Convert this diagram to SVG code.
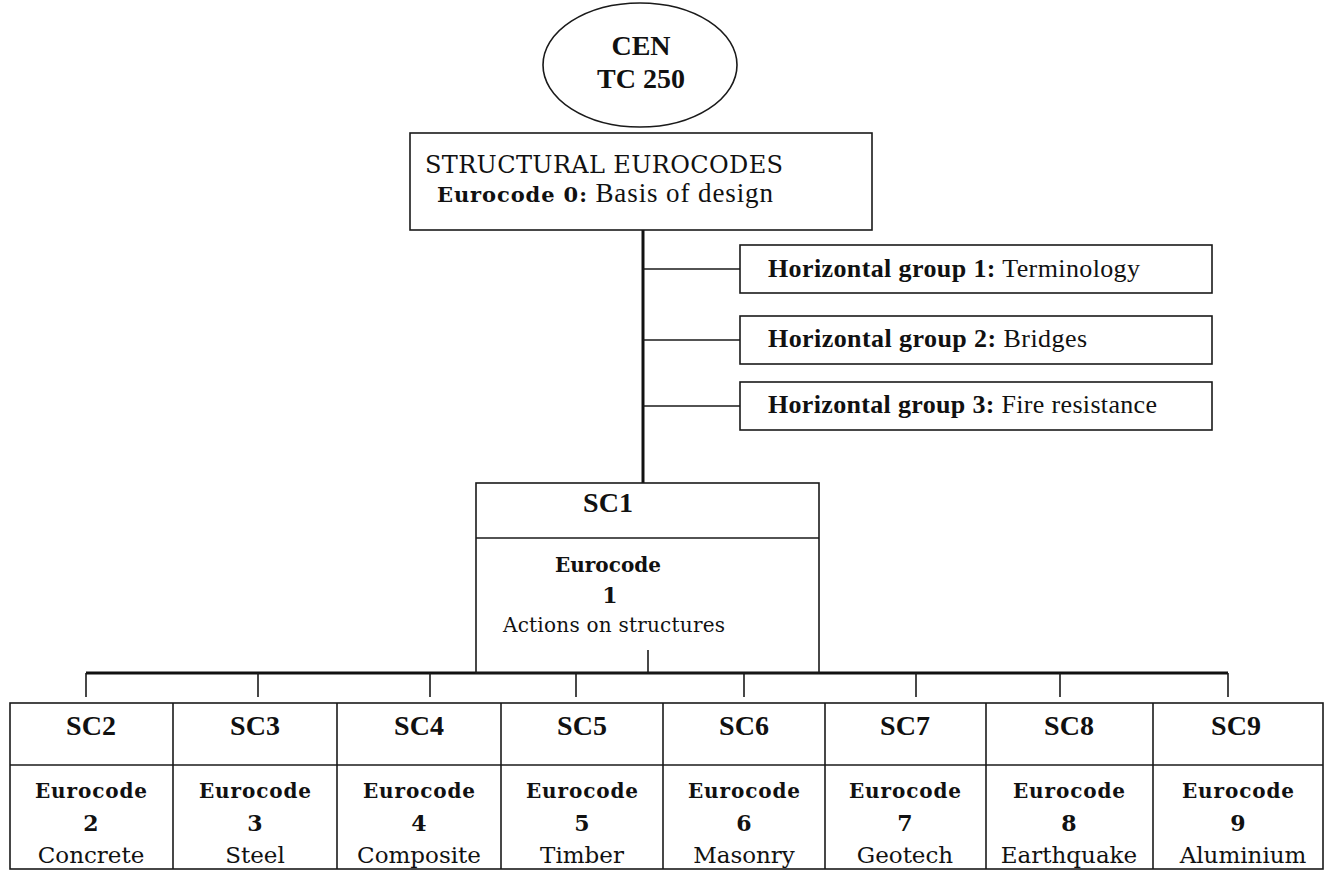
<svg xmlns="http://www.w3.org/2000/svg" width="1330" height="870" viewBox="0 0 1330 870">
<style>
.bg{fill:#fff}
.box{fill:none;stroke:#1a1a1a;stroke-width:1.6}
.ln{stroke:#1a1a1a;stroke-width:1.6;fill:none}
.thick{stroke:#111;stroke-width:3;fill:none}
.tnr{font-family:"Liberation Serif","Times New Roman",serif;fill:#111}
.dj{font-family:"DejaVu Serif","Liberation Serif",serif;fill:#111}
.b{font-weight:bold}
.sc{font-family:"Liberation Serif","Times New Roman",serif;font-size:28px;font-weight:bold;fill:#111;text-anchor:middle}
.ec{font-family:"DejaVu Serif","Liberation Serif",serif;font-size:20px;font-weight:bold;fill:#111;text-anchor:middle}
.num{font-family:"DejaVu Serif","Liberation Serif",serif;font-size:22px;font-weight:bold;fill:#111;text-anchor:middle}
.nm{font-family:"DejaVu Serif","Liberation Serif",serif;font-size:23px;fill:#111;text-anchor:middle}
.hg{font-family:"Liberation Serif","Times New Roman",serif;font-size:26px;fill:#111}
</style>
<rect class="bg" x="0" y="0" width="1330" height="870"/>

<g id="connectors">
  <line class="thick" x1="643" y1="230" x2="643" y2="483"/>
  <line class="ln" x1="643" y1="269" x2="740" y2="269"/>
  <line class="ln" x1="643" y1="340" x2="740" y2="340"/>
  <line class="ln" x1="643" y1="406" x2="740" y2="406"/>
  <line class="ln" x1="648" y1="650" x2="648" y2="673"/>
  <line class="thick" x1="86" y1="673" x2="1228" y2="673"/>
  <line class="ln" x1="86" y1="673" x2="86" y2="697"/>
  <line class="ln" x1="258" y1="673" x2="258" y2="697"/>
  <line class="ln" x1="430" y1="673" x2="430" y2="697"/>
  <line class="ln" x1="576" y1="673" x2="576" y2="697"/>
  <line class="ln" x1="744" y1="673" x2="744" y2="697"/>
  <line class="ln" x1="916" y1="673" x2="916" y2="697"/>
  <line class="ln" x1="1060" y1="673" x2="1060" y2="697"/>
  <line class="ln" x1="1228" y1="673" x2="1228" y2="697"/>
</g>

<g id="cen">
  <ellipse class="box" cx="640" cy="65" rx="97" ry="62"/>
  <text class="tnr b" x="641" y="55" font-size="28" text-anchor="middle">CEN</text>
  <text class="tnr b" x="641" y="88" font-size="28" text-anchor="middle">TC 250</text>
</g>

<g id="structural">
  <rect class="box" x="410" y="133" width="462" height="97"/>
  <text class="dj" x="425" y="173" font-size="24" textLength="358">STRUCTURAL EUROCODES</text>
  <text x="437" y="202" textLength="336"><tspan class="dj b" font-size="21">Eurocode 0:</tspan><tspan class="tnr" font-size="27"> Basis of design</tspan></text>
</g>

<g id="hg1">
  <rect class="box" x="740" y="245" width="472" height="48"/>
  <text class="hg" x="768" y="277" textLength="372"><tspan class="b">Horizontal group 1:</tspan> Terminology</text>
</g>
<g id="hg2">
  <rect class="box" x="740" y="316" width="472" height="48"/>
  <text class="hg" x="768" y="347" textLength="319"><tspan class="b">Horizontal group 2:</tspan> Bridges</text>
</g>
<g id="hg3">
  <rect class="box" x="740" y="382" width="472" height="48"/>
  <text class="hg" x="768" y="413" textLength="389"><tspan class="b">Horizontal group 3:</tspan> Fire resistance</text>
</g>

<g id="sc1">
  <rect class="box" x="476" y="483" width="343" height="190"/>
  <line class="ln" x1="476" y1="538" x2="819" y2="538"/>
  <text class="sc" x="608" y="512">SC1</text>
  <text class="ec" x="608" y="572" textLength="106">Eurocode</text>
  <text class="num" x="610" y="603">1</text>
  <text class="dj" x="614" y="632" font-size="20" text-anchor="middle" textLength="222">Actions on structures</text>
</g>

<g id="bottom-frame">
  <rect class="box" x="10" y="703" width="1313" height="166"/>
  <line class="ln" x1="10" y1="765" x2="1323" y2="765"/>
</g>

<g id="sc2">
  <line class="ln" x1="173" y1="703" x2="173" y2="869"/>
  <text class="sc" x="91" y="735">SC2</text>
  <text class="ec" x="91" y="798" textLength="112">Eurocode</text>
  <text class="num" x="91" y="831">2</text>
  <text class="nm" x="91" y="863">Concrete</text>
</g>
<g id="sc3">
  <line class="ln" x1="337" y1="703" x2="337" y2="869"/>
  <text class="sc" x="255" y="735">SC3</text>
  <text class="ec" x="255" y="798" textLength="112">Eurocode</text>
  <text class="num" x="255" y="831">3</text>
  <text class="nm" x="255" y="863">Steel</text>
</g>
<g id="sc4">
  <line class="ln" x1="501" y1="703" x2="501" y2="869"/>
  <text class="sc" x="419" y="735">SC4</text>
  <text class="ec" x="419" y="798" textLength="112">Eurocode</text>
  <text class="num" x="419" y="831">4</text>
  <text class="nm" x="419" y="863">Composite</text>
</g>
<g id="sc5">
  <line class="ln" x1="663" y1="703" x2="663" y2="869"/>
  <text class="sc" x="582" y="735">SC5</text>
  <text class="ec" x="582" y="798" textLength="112">Eurocode</text>
  <text class="num" x="582" y="831">5</text>
  <text class="nm" x="582" y="863">Timber</text>
</g>
<g id="sc6">
  <line class="ln" x1="825" y1="703" x2="825" y2="869"/>
  <text class="sc" x="744" y="735">SC6</text>
  <text class="ec" x="744" y="798" textLength="112">Eurocode</text>
  <text class="num" x="744" y="831">6</text>
  <text class="nm" x="744" y="863">Masonry</text>
</g>
<g id="sc7">
  <line class="ln" x1="986" y1="703" x2="986" y2="869"/>
  <text class="sc" x="905" y="735">SC7</text>
  <text class="ec" x="905" y="798" textLength="112">Eurocode</text>
  <text class="num" x="905" y="831">7</text>
  <text class="nm" x="905" y="863">Geotech</text>
</g>
<g id="sc8">
  <line class="ln" x1="1153" y1="703" x2="1153" y2="869"/>
  <text class="sc" x="1069" y="735">SC8</text>
  <text class="ec" x="1069" y="798" textLength="112">Eurocode</text>
  <text class="num" x="1069" y="831">8</text>
  <text class="nm" x="1069" y="863">Earthquake</text>
</g>
<g id="sc9">
  <text class="sc" x="1236" y="735">SC9</text>
  <text class="ec" x="1238" y="798" textLength="112">Eurocode</text>
  <text class="num" x="1238" y="831">9</text>
  <text class="nm" x="1243" y="863">Aluminium</text>
</g>
</svg>
